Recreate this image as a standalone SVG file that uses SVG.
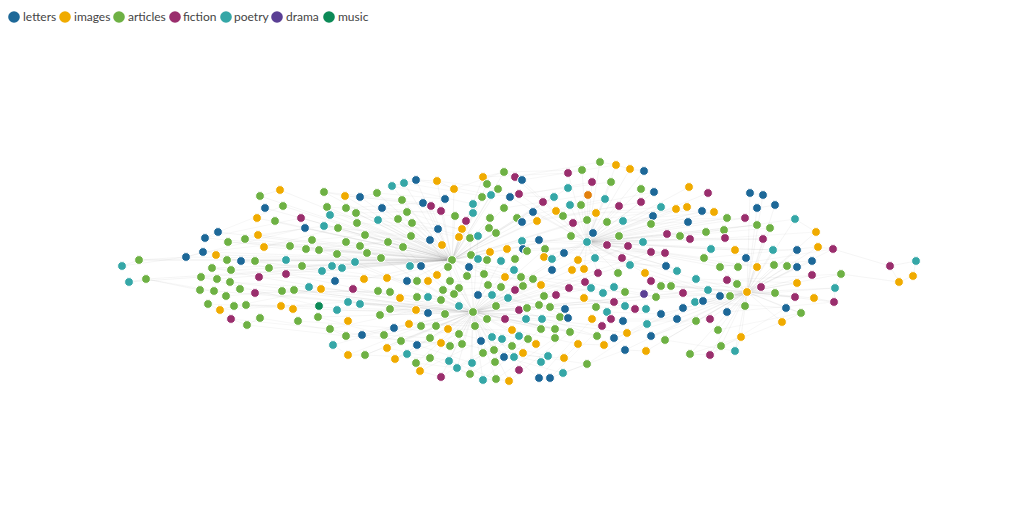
<svg xmlns="http://www.w3.org/2000/svg" width="1024" height="519" viewBox="0 0 1024 519">
<style>
.l{fill:#1d6898}.i{fill:#f0ab00}.a{fill:#6eb144}.f{fill:#9a2e6d}.p{fill:#35a7a7}.d{fill:#5a3f94}.m{fill:#0c8a57}.o{fill:#e2800c}
#nodes circle{stroke:#fff;stroke-width:1}
#edges path{fill:none;stroke:#8a8a8a;stroke-opacity:0.15;stroke-width:0.6}
#edges path.w{stroke-opacity:0.12}
.lg{font-family:Lato,"Open Sans",sans-serif;font-size:12px;fill:#444}
</style>
<g id="legend">
<circle class="l" cx="14" cy="17" r="5.8"/><text class="lg" x="23" y="21">letters</text>
<circle class="i" cx="65" cy="17" r="5.8"/><text class="lg" x="74" y="21">images</text>
<circle class="a" cx="119" cy="17" r="5.8"/><text class="lg" x="128" y="21">articles</text>
<circle class="f" cx="175" cy="17" r="5.8"/><text class="lg" x="183" y="21">fiction</text>
<circle class="p" cx="226" cy="17" r="5.8"/><text class="lg" x="234" y="21">poetry</text>
<circle class="d" cx="277" cy="17" r="5.8"/><text class="lg" x="286" y="21">drama</text>
<circle class="m" cx="329" cy="17" r="5.8"/><text class="lg" x="338" y="21">music</text>
</g>
<g id="edges">
<path d="M473 312L417 281M473 312L428 297M473 312L441 300M473 312L459 288M473 312L488 285M473 312L501 287M473 312L508 298M473 312L515 290M473 312L496 306M473 312L519 310M473 312L487 319M473 312L505 319M473 312L512 330M473 312L475 326M473 312L459 334M473 312L448 329M473 312L436 326M473 312L421 326M473 312L430 338M473 312L450 346M473 312L462 344M473 312L481 341M473 312L492 337M473 312L502 339M473 312L519 336M473 312L494 350M473 312L483 353M473 312L504 357M473 312L514 357M473 312L472 363M473 312L449 361M473 312L457 368M473 312L470 374M473 312L483 380M473 312L496 379M473 312L509 381M473 312L441 377M473 312L420 371M473 312L416 363M473 312L395 359M473 312L390 309M473 312L380 315M473 312L348 302M473 312L360 304M473 312L337 310M473 312L319 317M473 312L319 250M473 312L337 254M473 312L360 246M473 312L388 242M473 312L403 247M473 312L430 240M473 312L442 245M473 312L452 260M473 312L470 238M473 312L478 236M473 312L490 252M473 312L507 249M473 312L523 249M473 312L527 251M473 312L545 249M473 312L564 253M473 312L587 242M473 312L607 245M473 312L628 246M473 312L541 285M473 312L569 288M473 312L585 282M473 312L591 288M473 312L596 307M473 312L614 302M473 312L560 317M473 312L568 318M473 312L541 329M473 312L555 329M473 312L570 332M473 312L597 336M473 312L627 333M473 312L602 326M473 312L651 252M473 312L665 253M473 312L683 293M473 312L708 290M473 312L747 292M473 312L255 293M473 312L259 277M473 312L286 274M473 312L294 290M473 312L282 291M473 312L230 282M473 312L246 305M473 312L214 291M473 312L362 335M473 312L346 336M473 312L384 335M473 312L401 341M473 312L365 355M473 312L387 348"/>
<path d="M452 260L402 200M452 260L407 212M452 260L412 223M452 260L423 203M452 260L431 206M452 260L441 211M452 260L438 229M452 260L455 216M452 260L466 221M452 260L462 229M452 260L459 237M452 260L489 228M452 260L496 233M452 260L473 213M452 260L473 204M452 260L411 236M452 260L346 242M452 260L324 226M452 260L338 228M452 260L357 223M452 260L365 235M452 260L312 240M452 260L306 249M452 260L290 246M452 260L264 247M452 260L258 235M452 260L245 239M452 260L228 242M452 260L218 232M452 260L205 238M452 260L186 257M452 260L203 252M452 260L216 255M452 260L227 260M452 260L241 261M452 260L255 261M452 260L269 268M452 260L286 260M452 260L302 266M452 260L231 270M452 260L212 268M452 260L201 277M452 260L217 279M452 260L322 271M452 260L332 266M452 260L342 268M452 260L355 262M452 260L364 279M452 260L387 278M452 260L407 281M452 260L428 281M452 260L437 275M452 260L450 281M452 260L467 276M452 260L484 274M452 260L505 277M452 260L514 270M452 260L520 277M452 260L522 241M452 260L522 222M452 260L537 221M452 260L556 211M452 260L573 223M452 260L587 220M452 260L593 233M452 260L571 236M452 260L543 202M452 260L554 197M452 260L568 188M452 260L504 208M452 260L517 218M452 260L490 218M452 260L483 196M452 260L491 195M452 260L498 189M452 260L487 184M452 260L504 172M452 260L483 177M452 260L454 189M452 260L437 181M452 260L416 180M452 260L404 183M452 260L392 186M452 260L378 220M452 260L398 219M452 260L382 208M452 260L356 213M452 260L346 208M452 260L327 207M452 260L330 215M452 260L345 196M452 260L360 197M452 260L377 193M452 260L324 192M452 260L305 228M452 260L301 218M452 260L283 206M452 260L275 221M452 260L265 208M452 260L257 218M452 260L260 196M452 260L280 190M452 260L139 260M452 260L146 279"/>
<path d="M587 242L600 162M587 242L616 165M587 242L630 169M587 242L644 171M587 242L582 170M587 242L568 173M587 242L592 182M587 242L611 182M587 242L605 199M587 242L588 195M587 242L619 206M587 242L641 202M587 242L641 189M587 242L654 192M587 242L661 207M587 242L653 216M587 242L651 224M587 242L623 221M587 242L607 222M587 242L619 236M587 242L643 242M587 242L667 234M587 242L680 236M587 242L690 239M587 242L706 232M587 242L711 249M587 242L725 238M587 242L724 230M587 242L727 218M587 242L688 222M587 242L702 211M587 242L714 212M587 242L676 209M587 242L687 207M587 242L689 187M587 242L708 193M587 242L745 218M587 242L757 225M587 242L763 239M587 242L773 250M587 242L735 250M587 242L757 267M587 242L720 267M587 242L738 267M587 242L704 258M587 242L677 269M587 242L666 266M587 242L645 273M587 242L630 264M587 242L622 258M587 242L595 258M587 242L578 260M587 242L572 269M587 242L584 269M587 242L598 273M587 242L618 273M587 242L544 257M587 242L552 259M587 242L539 240M587 242L533 212M587 242L563 216M587 242L570 205M587 242L581 205M587 242L596 213M587 242L515 177M587 242L522 180M587 242L510 197M587 242L519 194"/>
<path d="M747 292L737 284M747 292L731 296M747 292L745 306M747 292L727 312M747 292L761 287M747 292L775 293M747 292L795 297M747 292L797 283M747 292L812 275M747 292L786 308M747 292L801 313M747 292L782 322M747 292L814 298M747 292L727 280M747 292L719 266M747 292L696 279M747 292L708 290M747 292L720 296M747 292L703 301M747 292L695 302M747 292L683 308M747 292L677 319M747 292L696 321M747 292L710 319M747 292L718 330M747 292L661 314M747 292L647 324M747 292L656 297M747 292L671 286M747 292L661 286M747 292L741 337M747 292L735 351M747 292L721 346M747 292L710 355M747 292L690 354M747 292L774 265M747 292L787 266M747 292L797 267M747 292L757 267M747 292L773 250M747 292L797 250M747 292L818 247M747 292L812 261M747 292L763 239M747 292L770 228M747 292L795 219M747 292L775 205M747 292L757 208M747 292L750 193M747 292L763 195M747 292L841 274M747 292L835 288M747 292L834 302M747 292L816 232M747 292L833 249M747 292L651 336M747 292L665 340M747 292L625 350M747 292L646 351"/>
<path class="w" d="M186 257L305 228M203 252L312 240M218 232L283 206M205 238L301 218M139 260L227 260M146 279L214 291M201 277L319 306M208 304L337 310M220 310L348 302M231 319L330 329M247 325L346 336M260 318L362 335M298 321L394 328M318 317L384 335M255 293L378 291M282 291L390 292M294 290L400 298M309 287L417 297M321 289L428 297M259 277L364 279M286 274L387 278M269 268L407 281M302 266L417 281M324 192L402 200M345 196L423 203M360 197L431 206M377 193L445 199M392 186L473 204M404 183L483 196M416 180L491 195M437 181L498 189M454 189L504 172M483 177L568 173M504 172L582 170M515 177L600 162M522 180L616 165M510 197L592 182M519 194L611 182M491 195L554 197M504 208L588 195M517 218L605 199M522 222L619 206M537 221L641 202M556 211L654 192M563 216L661 207M573 223L676 209M596 213L702 211M607 222L714 212M623 221L727 218M651 224L745 218M667 234L757 225M680 236L770 228M690 239L763 239M706 232L795 219M711 249L797 250M725 238L816 232M704 258L818 247M719 266L812 261M720 267L833 249M727 280L841 274M730 296L835 288M727 312L834 302M718 330L801 313M721 346L782 322M710 355L786 308M690 354L741 337M665 340L735 351M651 336L696 321M627 333L683 308M614 338L677 319M604 345L661 314M587 364L647 324M563 373L625 350M550 378L602 326M539 378L592 319M509 381L570 332M496 379L555 338M483 380L541 329M470 374L528 339M457 368L519 336M441 377L502 339M420 371L481 341M407 354L459 334M395 359L448 329M365 355L436 326M348 355L421 326M333 345L409 324M330 329L416 310M337 310L428 313M348 302L445 314M360 304L459 306M380 315L441 300M390 309L454 294M522 241L607 245M523 249L628 246M527 251L643 242M545 249L651 252M564 253L665 253M578 260L666 266M595 258L677 269M622 258L696 279M630 264L708 290M645 273L720 296M651 281L737 284M661 286L761 287M671 286L775 293M683 293L795 297M696 279L797 283M703 301L786 308M695 302L745 306M541 285L603 293M569 288L625 292M585 282L644 294M591 288L656 297M614 287L683 293M544 296L614 302M556 295L625 306M584 298L635 309M596 307L646 309M607 312L661 314M611 319L677 319M623 321L696 321M533 279L591 288M522 276L585 282M505 277L569 288M484 274L541 285M467 276L533 279M450 281L523 286M443 290L501 287M454 294L508 298M478 295L539 305M492 295L550 307M496 306L565 309M508 298L560 317M515 290L568 318M519 310L597 336M487 319L555 329M505 319L570 332M512 330L578 344M475 326L536 344M459 334L548 356M462 344L541 362M483 353L564 358M494 350L587 364M504 357L563 373M514 357L539 378M401 341L462 344M417 345L472 363M430 358L483 380M449 361L496 379M416 363L457 368M387 348L449 361M365 355L430 358M362 335L450 346M346 336L441 343M384 335L430 338M394 328L459 334M409 324L475 326M421 326L487 319M436 326L505 319M448 329L512 330M324 226L411 236M338 228L430 240M357 223L438 229M365 235L442 245M378 220L459 237M398 219L462 229M412 223L470 238M407 212L478 236M382 208L455 216M356 213L441 211M346 208L423 203M327 207L407 212M330 215L398 219M346 242L403 247M360 246L411 236M337 254L381 258M319 250L367 253M312 240L365 235M306 249L388 242M290 246L346 242M264 247L338 228M258 235L324 226M245 239L305 228M228 242L290 246M241 261L302 266M255 261L322 271M227 260L286 260M216 255L269 268M212 268L259 277M231 270L286 274M230 282L309 287M226 296L294 290M234 306L321 289M246 305L319 306M240 289L282 291"/>
<path d="M890 266L916 261M890 266L899 282M899 282L913 276M833 249L818 247M816 232L795 219M122 266L139 260M129 282L146 279M750 193L763 195M757 208L775 205M600 162L616 165M616 165L630 169M630 169L644 171M483 177L504 172M504 172L515 177M260 196L280 190M735 351L741 337M539 378L550 378M441 377L420 371M483 380L496 379M496 379L509 381M329 329L346 336M333 345L348 355M186 257L203 252M205 238L218 232M392 186L404 183M404 183L416 180M416 180L437 181M437 181L454 189M324 192L345 196M345 196L360 197M360 197L377 193M841 274L835 288M835 288L834 302M834 302L814 298M801 313L786 308M782 322L801 313M587 364L563 373M563 373L550 378M541 362L548 356M710 355L721 346M690 354L710 355M646 351L625 350M604 345L578 344M564 358L578 344M395 359L387 348M365 355L348 355M416 363L420 371M457 368L470 374M449 361L457 368M472 363L483 353M514 357L523 353M504 357L494 350M231 319L247 325M247 325L260 318M208 304L220 310M220 310L234 306M200 290L214 291M201 277L217 279M212 268L231 270M139 260L186 257M146 279L200 290M916 261L913 276M833 249L890 266M841 274L899 282M122 266L186 257M129 282L201 277"/>
</g>
<g id="nodes">
<g id="n1"><circle class="a" cx="260" cy="196" r="4.4"/></g>
<g id="n2"><circle class="i" cx="280" cy="190" r="4.4"/></g>
<g id="n3"><circle class="l" cx="265" cy="208" r="4.4"/></g>
<g id="n4"><circle class="a" cx="283" cy="206" r="4.4"/></g>
<g id="n5"><circle class="i" cx="257" cy="218" r="4.4"/></g>
<g id="n6"><circle class="a" cx="275" cy="221" r="4.4"/></g>
<g id="n7"><circle class="f" cx="301" cy="218" r="4.4"/></g>
<g id="n8"><circle class="l" cx="305" cy="228" r="4.4"/></g>
<g id="n9"><circle class="l" cx="218" cy="232" r="4.4"/></g>
<g id="n10"><circle class="l" cx="205" cy="238" r="4.4"/></g>
<g id="n11"><circle class="a" cx="228" cy="242" r="4.4"/></g>
<g id="n12"><circle class="a" cx="245" cy="239" r="4.4"/></g>
<g id="n13"><circle class="i" cx="258" cy="235" r="4.4"/></g>
<g id="n14"><circle class="i" cx="264" cy="247" r="4.4"/></g>
<g id="n15"><circle class="a" cx="290" cy="246" r="4.4"/></g>
<g id="n16"><circle class="a" cx="312" cy="240" r="4.4"/></g>
<g id="n17"><circle class="a" cx="306" cy="249" r="4.4"/></g>
<g id="n18"><circle class="a" cx="319" cy="250" r="4.4"/></g>
<g id="n19"><circle class="l" cx="186" cy="257" r="4.4"/></g>
<g id="n20"><circle class="l" cx="203" cy="252" r="4.4"/></g>
<g id="n21"><circle class="i" cx="216" cy="255" r="4.4"/></g>
<g id="n22"><circle class="a" cx="227" cy="260" r="4.4"/></g>
<g id="n23"><circle class="l" cx="241" cy="261" r="4.4"/></g>
<g id="n24"><circle class="a" cx="255" cy="261" r="4.4"/></g>
<g id="n25"><circle class="p" cx="286" cy="260" r="4.4"/></g>
<g id="n26"><circle class="a" cx="302" cy="266" r="4.4"/></g>
<g id="n27"><circle class="a" cx="139" cy="260" r="4.4"/></g>
<g id="n28"><circle class="p" cx="122" cy="266" r="4.4"/></g>
<g id="n29"><circle class="a" cx="212" cy="268" r="4.4"/></g>
<g id="n30"><circle class="a" cx="231" cy="270" r="4.4"/></g>
<g id="n31"><circle class="a" cx="269" cy="268" r="4.4"/></g>
<g id="n32"><circle class="p" cx="129" cy="282" r="4.4"/></g>
<g id="n33"><circle class="a" cx="146" cy="279" r="4.4"/></g>
<g id="n34"><circle class="a" cx="201" cy="277" r="4.4"/></g>
<g id="n35"><circle class="a" cx="217" cy="279" r="4.4"/></g>
<g id="n36"><circle class="a" cx="230" cy="282" r="4.4"/></g>
<g id="n37"><circle class="f" cx="259" cy="277" r="4.4"/></g>
<g id="n38"><circle class="f" cx="286" cy="274" r="4.4"/></g>
<g id="n39"><circle class="a" cx="200" cy="290" r="4.4"/></g>
<g id="n40"><circle class="a" cx="214" cy="291" r="4.4"/></g>
<g id="n41"><circle class="a" cx="240" cy="289" r="4.4"/></g>
<g id="n42"><circle class="a" cx="226" cy="296" r="4.4"/></g>
<g id="n43"><circle class="f" cx="255" cy="293" r="4.4"/></g>
<g id="n44"><circle class="a" cx="282" cy="291" r="4.4"/></g>
<g id="n45"><circle class="a" cx="294" cy="290" r="4.4"/></g>
<g id="n46"><circle class="p" cx="309" cy="287" r="4.4"/></g>
<g id="n47"><circle class="i" cx="321" cy="289" r="4.4"/></g>
<g id="n48"><circle class="a" cx="208" cy="304" r="4.4"/></g>
<g id="n49"><circle class="i" cx="220" cy="310" r="4.4"/></g>
<g id="n50"><circle class="a" cx="234" cy="306" r="4.4"/></g>
<g id="n51"><circle class="a" cx="246" cy="305" r="4.4"/></g>
<g id="n52"><circle class="i" cx="281" cy="306" r="4.4"/></g>
<g id="n53"><circle class="i" cx="293" cy="309" r="4.4"/></g>
<g id="n54"><circle class="m" cx="319" cy="306" r="4.4"/></g>
<g id="n55"><circle class="f" cx="231" cy="319" r="4.4"/></g>
<g id="n56"><circle class="a" cx="260" cy="318" r="4.4"/></g>
<g id="n57"><circle class="a" cx="247" cy="325" r="4.4"/></g>
<g id="n58"><circle class="a" cx="298" cy="321" r="4.4"/></g>
<g id="n59"><circle class="a" cx="318" cy="317" r="4.4"/></g>
<g id="n60"><circle class="a" cx="504" cy="172" r="4.4"/></g>
<g id="n61"><circle class="i" cx="483" cy="177" r="4.4"/></g>
<g id="n62"><circle class="f" cx="515" cy="177" r="4.4"/></g>
<g id="n63"><circle class="l" cx="522" cy="180" r="4.4"/></g>
<g id="n64"><circle class="a" cx="487" cy="184" r="4.4"/></g>
<g id="n65"><circle class="a" cx="498" cy="189" r="4.4"/></g>
<g id="n66"><circle class="p" cx="392" cy="186" r="4.4"/></g>
<g id="n67"><circle class="p" cx="404" cy="183" r="4.4"/></g>
<g id="n68"><circle class="l" cx="416" cy="180" r="4.4"/></g>
<g id="n69"><circle class="i" cx="437" cy="181" r="4.4"/></g>
<g id="n70"><circle class="i" cx="454" cy="189" r="4.4"/></g>
<g id="n71"><circle class="a" cx="324" cy="192" r="4.4"/></g>
<g id="n72"><circle class="i" cx="345" cy="196" r="4.4"/></g>
<g id="n73"><circle class="l" cx="360" cy="197" r="4.4"/></g>
<g id="n74"><circle class="a" cx="377" cy="193" r="4.4"/></g>
<g id="n75"><circle class="p" cx="491" cy="195" r="4.4"/></g>
<g id="n76"><circle class="a" cx="482" cy="197" r="4.4"/></g>
<g id="n77"><circle class="l" cx="510" cy="197" r="4.4"/></g>
<g id="n78"><circle class="f" cx="519" cy="194" r="4.4"/></g>
<g id="n79"><circle class="a" cx="402" cy="200" r="4.4"/></g>
<g id="n80"><circle class="l" cx="423" cy="203" r="4.4"/></g>
<g id="n81"><circle class="f" cx="431" cy="206" r="4.4"/></g>
<g id="n82"><circle class="l" cx="445" cy="199" r="4.4"/></g>
<g id="n83"><circle class="f" cx="441" cy="211" r="4.4"/></g>
<g id="n84"><circle class="p" cx="473" cy="204" r="4.4"/></g>
<g id="n85"><circle class="p" cx="473" cy="213" r="4.4"/></g>
<g id="n86"><circle class="a" cx="504" cy="208" r="4.4"/></g>
<g id="n87"><circle class="a" cx="327" cy="207" r="4.4"/></g>
<g id="n88"><circle class="a" cx="346" cy="208" r="4.4"/></g>
<g id="n89"><circle class="a" cx="356" cy="213" r="4.4"/></g>
<g id="n90"><circle class="l" cx="382" cy="208" r="4.4"/></g>
<g id="n91"><circle class="a" cx="407" cy="212" r="4.4"/></g>
<g id="n92"><circle class="p" cx="330" cy="215" r="4.4"/></g>
<g id="n93"><circle class="a" cx="398" cy="219" r="4.4"/></g>
<g id="n94"><circle class="p" cx="378" cy="220" r="4.4"/></g>
<g id="n95"><circle class="a" cx="412" cy="223" r="4.4"/></g>
<g id="n96"><circle class="a" cx="455" cy="216" r="4.4"/></g>
<g id="n97"><circle class="f" cx="466" cy="221" r="4.4"/></g>
<g id="n98"><circle class="a" cx="490" cy="218" r="4.4"/></g>
<g id="n99"><circle class="a" cx="517" cy="218" r="4.4"/></g>
<g id="n100"><circle class="a" cx="357" cy="223" r="4.4"/></g>
<g id="n101"><circle class="p" cx="324" cy="226" r="4.4"/></g>
<g id="n102"><circle class="a" cx="338" cy="228" r="4.4"/></g>
<g id="n103"><circle class="i" cx="462" cy="229" r="4.4"/></g>
<g id="n104"><circle class="a" cx="489" cy="228" r="4.4"/></g>
<g id="n105"><circle class="l" cx="522" cy="222" r="4.4"/></g>
<g id="n106"><circle class="l" cx="438" cy="229" r="4.4"/></g>
<g id="n107"><circle class="a" cx="365" cy="235" r="4.4"/></g>
<g id="n108"><circle class="a" cx="496" cy="233" r="4.4"/></g>
<g id="n109"><circle class="a" cx="411" cy="236" r="4.4"/></g>
<g id="n110"><circle class="i" cx="459" cy="237" r="4.4"/></g>
<g id="n111"><circle class="a" cx="470" cy="238" r="4.4"/></g>
<g id="n112"><circle class="p" cx="478" cy="236" r="4.4"/></g>
<g id="n113"><circle class="l" cx="430" cy="240" r="4.4"/></g>
<g id="n114"><circle class="p" cx="522" cy="241" r="4.4"/></g>
<g id="n115"><circle class="a" cx="346" cy="242" r="4.4"/></g>
<g id="n116"><circle class="a" cx="388" cy="242" r="4.4"/></g>
<g id="n117"><circle class="a" cx="360" cy="246" r="4.4"/></g>
<g id="n118"><circle class="a" cx="403" cy="247" r="4.4"/></g>
<g id="n119"><circle class="i" cx="442" cy="245" r="4.4"/></g>
<g id="n120"><circle class="a" cx="337" cy="254" r="4.4"/></g>
<g id="n121"><circle class="a" cx="367" cy="253" r="4.4"/></g>
<g id="n122"><circle class="i" cx="490" cy="252" r="4.4"/></g>
<g id="n123"><circle class="i" cx="507" cy="249" r="4.4"/></g>
<g id="n124"><circle class="l" cx="523" cy="249" r="4.4"/></g>
<g id="n125"><circle class="p" cx="355" cy="262" r="4.4"/></g>
<g id="n126"><circle class="a" cx="381" cy="258" r="4.4"/></g>
<g id="n127"><circle class="a" cx="452" cy="260" r="4.4"/></g>
<g id="n128"><circle class="a" cx="471" cy="255" r="4.4"/></g>
<g id="n129"><circle class="p" cx="478" cy="259" r="4.4"/></g>
<g id="n130"><circle class="a" cx="487" cy="260" r="4.4"/></g>
<g id="n131"><circle class="p" cx="501" cy="261" r="4.4"/></g>
<g id="n132"><circle class="a" cx="515" cy="259" r="4.4"/></g>
<g id="n133"><circle class="p" cx="332" cy="266" r="4.4"/></g>
<g id="n134"><circle class="p" cx="410" cy="266" r="4.4"/></g>
<g id="n135"><circle class="l" cx="421" cy="266" r="4.4"/></g>
<g id="n136"><circle class="a" cx="448" cy="267" r="4.4"/></g>
<g id="n137"><circle class="l" cx="469" cy="267" r="4.4"/></g>
<g id="n138"><circle class="p" cx="342" cy="268" r="4.4"/></g>
<g id="n139"><circle class="p" cx="322" cy="271" r="4.4"/></g>
<g id="n140"><circle class="l" cx="335" cy="281" r="4.4"/></g>
<g id="n141"><circle class="i" cx="364" cy="279" r="4.4"/></g>
<g id="n142"><circle class="i" cx="387" cy="278" r="4.4"/></g>
<g id="n143"><circle class="l" cx="407" cy="281" r="4.4"/></g>
<g id="n144"><circle class="a" cx="417" cy="281" r="4.4"/></g>
<g id="n145"><circle class="i" cx="428" cy="281" r="4.4"/></g>
<g id="n146"><circle class="i" cx="437" cy="275" r="4.4"/></g>
<g id="n147"><circle class="a" cx="450" cy="281" r="4.4"/></g>
<g id="n148"><circle class="a" cx="467" cy="276" r="4.4"/></g>
<g id="n149"><circle class="a" cx="484" cy="274" r="4.4"/></g>
<g id="n150"><circle class="p" cx="514" cy="270" r="4.4"/></g>
<g id="n151"><circle class="i" cx="505" cy="277" r="4.4"/></g>
<g id="n152"><circle class="a" cx="521" cy="277" r="4.4"/></g>
<g id="n153"><circle class="f" cx="353" cy="289" r="4.4"/></g>
<g id="n154"><circle class="a" cx="378" cy="291" r="4.4"/></g>
<g id="n155"><circle class="a" cx="390" cy="292" r="4.4"/></g>
<g id="n156"><circle class="i" cx="400" cy="298" r="4.4"/></g>
<g id="n157"><circle class="a" cx="417" cy="297" r="4.4"/></g>
<g id="n158"><circle class="p" cx="428" cy="297" r="4.4"/></g>
<g id="n159"><circle class="a" cx="441" cy="300" r="4.4"/></g>
<g id="n160"><circle class="a" cx="443" cy="290" r="4.4"/></g>
<g id="n161"><circle class="a" cx="459" cy="288" r="4.4"/></g>
<g id="n162"><circle class="a" cx="454" cy="294" r="4.4"/></g>
<g id="n163"><circle class="l" cx="478" cy="295" r="4.4"/></g>
<g id="n164"><circle class="a" cx="488" cy="285" r="4.4"/></g>
<g id="n165"><circle class="p" cx="492" cy="295" r="4.4"/></g>
<g id="n166"><circle class="a" cx="501" cy="287" r="4.4"/></g>
<g id="n167"><circle class="p" cx="508" cy="298" r="4.4"/></g>
<g id="n168"><circle class="f" cx="515" cy="290" r="4.4"/></g>
<g id="n169"><circle class="a" cx="523" cy="286" r="4.4"/></g>
<g id="n170"><circle class="p" cx="348" cy="302" r="4.4"/></g>
<g id="n171"><circle class="p" cx="360" cy="304" r="4.4"/></g>
<g id="n172"><circle class="a" cx="390" cy="309" r="4.4"/></g>
<g id="n173"><circle class="a" cx="380" cy="315" r="4.4"/></g>
<g id="n174"><circle class="i" cx="416" cy="310" r="4.4"/></g>
<g id="n175"><circle class="l" cx="428" cy="313" r="4.4"/></g>
<g id="n176"><circle class="a" cx="445" cy="314" r="4.4"/></g>
<g id="n177"><circle class="p" cx="459" cy="306" r="4.4"/></g>
<g id="n178"><circle class="a" cx="473" cy="312" r="4.4"/></g>
<g id="n179"><circle class="a" cx="496" cy="306" r="4.4"/></g>
<g id="n180"><circle class="f" cx="519" cy="310" r="4.4"/></g>
<g id="n181"><circle class="p" cx="337" cy="310" r="4.4"/></g>
<g id="n182"><circle class="i" cx="348" cy="321" r="4.4"/></g>
<g id="n183"><circle class="a" cx="487" cy="319" r="4.4"/></g>
<g id="n184"><circle class="f" cx="505" cy="319" r="4.4"/></g>
<g id="n185"><circle class="i" cx="409" cy="324" r="4.4"/></g>
<g id="n186"><circle class="a" cx="421" cy="326" r="4.4"/></g>
<g id="n187"><circle class="a" cx="436" cy="326" r="4.4"/></g>
<g id="n188"><circle class="i" cx="448" cy="329" r="4.4"/></g>
<g id="n189"><circle class="a" cx="475" cy="326" r="4.4"/></g>
<g id="n190"><circle class="i" cx="512" cy="330" r="4.4"/></g>
<g id="n191"><circle class="a" cx="330" cy="329" r="4.4"/></g>
<g id="n192"><circle class="a" cx="346" cy="336" r="4.4"/></g>
<g id="n193"><circle class="l" cx="362" cy="335" r="4.4"/></g>
<g id="n194"><circle class="l" cx="394" cy="328" r="4.4"/></g>
<g id="n195"><circle class="a" cx="384" cy="335" r="4.4"/></g>
<g id="n196"><circle class="a" cx="401" cy="341" r="4.4"/></g>
<g id="n197"><circle class="a" cx="430" cy="338" r="4.4"/></g>
<g id="n198"><circle class="a" cx="459" cy="334" r="4.4"/></g>
<g id="n199"><circle class="p" cx="492" cy="337" r="4.4"/></g>
<g id="n200"><circle class="p" cx="502" cy="339" r="4.4"/></g>
<g id="n201"><circle class="p" cx="519" cy="336" r="4.4"/></g>
<g id="n202"><circle class="l" cx="481" cy="341" r="4.4"/></g>
<g id="n203"><circle class="i" cx="441" cy="343" r="4.4"/></g>
<g id="n204"><circle class="l" cx="417" cy="345" r="4.4"/></g>
<g id="n205"><circle class="a" cx="450" cy="346" r="4.4"/></g>
<g id="n206"><circle class="a" cx="462" cy="344" r="4.4"/></g>
<g id="n207"><circle class="a" cx="512" cy="346" r="4.4"/></g>
<g id="n208"><circle class="p" cx="333" cy="345" r="4.4"/></g>
<g id="n209"><circle class="i" cx="387" cy="348" r="4.4"/></g>
<g id="n210"><circle class="p" cx="407" cy="354" r="4.4"/></g>
<g id="n211"><circle class="a" cx="365" cy="355" r="4.4"/></g>
<g id="n212"><circle class="i" cx="348" cy="355" r="4.4"/></g>
<g id="n213"><circle class="a" cx="430" cy="358" r="4.4"/></g>
<g id="n214"><circle class="a" cx="483" cy="353" r="4.4"/></g>
<g id="n215"><circle class="a" cx="494" cy="350" r="4.4"/></g>
<g id="n216"><circle class="l" cx="504" cy="357" r="4.4"/></g>
<g id="n217"><circle class="p" cx="514" cy="357" r="4.4"/></g>
<g id="n218"><circle class="i" cx="523" cy="353" r="4.4"/></g>
<g id="n219"><circle class="i" cx="395" cy="359" r="4.4"/></g>
<g id="n220"><circle class="p" cx="449" cy="361" r="4.4"/></g>
<g id="n221"><circle class="a" cx="416" cy="363" r="4.4"/></g>
<g id="n222"><circle class="a" cx="495" cy="362" r="4.4"/></g>
<g id="n223"><circle class="p" cx="472" cy="363" r="4.4"/></g>
<g id="n224"><circle class="f" cx="519" cy="370" r="4.4"/></g>
<g id="n225"><circle class="i" cx="420" cy="371" r="4.4"/></g>
<g id="n226"><circle class="p" cx="457" cy="368" r="4.4"/></g>
<g id="n227"><circle class="a" cx="470" cy="374" r="4.4"/></g>
<g id="n228"><circle class="f" cx="441" cy="377" r="4.4"/></g>
<g id="n229"><circle class="p" cx="483" cy="380" r="4.4"/></g>
<g id="n230"><circle class="a" cx="496" cy="379" r="4.4"/></g>
<g id="n231"><circle class="i" cx="509" cy="381" r="4.4"/></g>
<g id="n232"><circle class="a" cx="600" cy="162" r="4.4"/></g>
<g id="n233"><circle class="i" cx="616" cy="165" r="4.4"/></g>
<g id="n234"><circle class="i" cx="630" cy="169" r="4.4"/></g>
<g id="n235"><circle class="l" cx="644" cy="171" r="4.4"/></g>
<g id="n236"><circle class="f" cx="568" cy="173" r="4.4"/></g>
<g id="n237"><circle class="a" cx="582" cy="170" r="4.4"/></g>
<g id="n238"><circle class="f" cx="592" cy="182" r="4.4"/></g>
<g id="n239"><circle class="a" cx="611" cy="182" r="4.4"/></g>
<g id="n240"><circle class="a" cx="641" cy="189" r="4.4"/></g>
<g id="n241"><circle class="l" cx="654" cy="192" r="4.4"/></g>
<g id="n242"><circle class="i" cx="689" cy="187" r="4.4"/></g>
<g id="n243"><circle class="f" cx="708" cy="193" r="4.4"/></g>
<g id="n244"><circle class="p" cx="568" cy="188" r="4.4"/></g>
<g id="n245"><circle class="p" cx="554" cy="197" r="4.4"/></g>
<g id="n246"><circle class="o" cx="588" cy="195" r="4.4"/></g>
<g id="n247"><circle class="p" cx="605" cy="199" r="4.4"/></g>
<g id="n248"><circle class="f" cx="543" cy="202" r="4.4"/></g>
<g id="n249"><circle class="p" cx="570" cy="205" r="4.4"/></g>
<g id="n250"><circle class="a" cx="581" cy="205" r="4.4"/></g>
<g id="n251"><circle class="f" cx="619" cy="206" r="4.4"/></g>
<g id="n252"><circle class="f" cx="641" cy="202" r="4.4"/></g>
<g id="n253"><circle class="p" cx="661" cy="207" r="4.4"/></g>
<g id="n254"><circle class="i" cx="676" cy="209" r="4.4"/></g>
<g id="n255"><circle class="i" cx="687" cy="207" r="4.4"/></g>
<g id="n256"><circle class="l" cx="702" cy="211" r="4.4"/></g>
<g id="n257"><circle class="i" cx="714" cy="212" r="4.4"/></g>
<g id="n258"><circle class="a" cx="727" cy="218" r="4.4"/></g>
<g id="n259"><circle class="l" cx="533" cy="212" r="4.4"/></g>
<g id="n260"><circle class="i" cx="556" cy="211" r="4.4"/></g>
<g id="n261"><circle class="a" cx="563" cy="216" r="4.4"/></g>
<g id="n262"><circle class="i" cx="596" cy="213" r="4.4"/></g>
<g id="n263"><circle class="l" cx="653" cy="216" r="4.4"/></g>
<g id="n264"><circle class="i" cx="537" cy="221" r="4.4"/></g>
<g id="n265"><circle class="f" cx="573" cy="223" r="4.4"/></g>
<g id="n266"><circle class="a" cx="587" cy="220" r="4.4"/></g>
<g id="n267"><circle class="a" cx="607" cy="222" r="4.4"/></g>
<g id="n268"><circle class="p" cx="623" cy="221" r="4.4"/></g>
<g id="n269"><circle class="a" cx="651" cy="224" r="4.4"/></g>
<g id="n270"><circle class="l" cx="688" cy="222" r="4.4"/></g>
<g id="n271"><circle class="a" cx="724" cy="230" r="4.4"/></g>
<g id="n272"><circle class="l" cx="593" cy="233" r="4.4"/></g>
<g id="n273"><circle class="a" cx="571" cy="236" r="4.4"/></g>
<g id="n274"><circle class="a" cx="619" cy="236" r="4.4"/></g>
<g id="n275"><circle class="f" cx="667" cy="234" r="4.4"/></g>
<g id="n276"><circle class="a" cx="680" cy="236" r="4.4"/></g>
<g id="n277"><circle class="f" cx="690" cy="239" r="4.4"/></g>
<g id="n278"><circle class="a" cx="706" cy="232" r="4.4"/></g>
<g id="n279"><circle class="f" cx="725" cy="238" r="4.4"/></g>
<g id="n280"><circle class="l" cx="539" cy="240" r="4.4"/></g>
<g id="n281"><circle class="p" cx="587" cy="242" r="4.4"/></g>
<g id="n282"><circle class="f" cx="607" cy="245" r="4.4"/></g>
<g id="n283"><circle class="f" cx="628" cy="246" r="4.4"/></g>
<g id="n284"><circle class="p" cx="643" cy="242" r="4.4"/></g>
<g id="n285"><circle class="p" cx="711" cy="249" r="4.4"/></g>
<g id="n286"><circle class="a" cx="527" cy="251" r="4.4"/></g>
<g id="n287"><circle class="a" cx="545" cy="249" r="4.4"/></g>
<g id="n288"><circle class="l" cx="564" cy="253" r="4.4"/></g>
<g id="n289"><circle class="f" cx="651" cy="252" r="4.4"/></g>
<g id="n290"><circle class="f" cx="665" cy="253" r="4.4"/></g>
<g id="n291"><circle class="i" cx="544" cy="257" r="4.4"/></g>
<g id="n292"><circle class="p" cx="552" cy="259" r="4.4"/></g>
<g id="n293"><circle class="i" cx="578" cy="260" r="4.4"/></g>
<g id="n294"><circle class="p" cx="595" cy="258" r="4.4"/></g>
<g id="n295"><circle class="f" cx="622" cy="258" r="4.4"/></g>
<g id="n296"><circle class="p" cx="630" cy="265" r="4.4"/></g>
<g id="n297"><circle class="a" cx="704" cy="258" r="4.4"/></g>
<g id="n298"><circle class="a" cx="720" cy="267" r="4.4"/></g>
<g id="n299"><circle class="l" cx="666" cy="266" r="4.4"/></g>
<g id="n300"><circle class="p" cx="677" cy="271" r="4.4"/></g>
<g id="n301"><circle class="i" cx="572" cy="270" r="4.4"/></g>
<g id="n302"><circle class="i" cx="584" cy="269" r="4.4"/></g>
<g id="n303"><circle class="l" cx="552" cy="270" r="4.4"/></g>
<g id="n304"><circle class="a" cx="618" cy="273" r="4.4"/></g>
<g id="n305"><circle class="i" cx="645" cy="273" r="4.4"/></g>
<g id="n306"><circle class="f" cx="598" cy="273" r="4.4"/></g>
<g id="n307"><circle class="a" cx="533" cy="279" r="4.4"/></g>
<g id="n308"><circle class="i" cx="541" cy="285" r="4.4"/></g>
<g id="n309"><circle class="f" cx="585" cy="282" r="4.4"/></g>
<g id="n310"><circle class="f" cx="569" cy="288" r="4.4"/></g>
<g id="n311"><circle class="p" cx="591" cy="288" r="4.4"/></g>
<g id="n312"><circle class="p" cx="614" cy="287" r="4.4"/></g>
<g id="n313"><circle class="f" cx="651" cy="281" r="4.4"/></g>
<g id="n314"><circle class="a" cx="661" cy="286" r="4.4"/></g>
<g id="n315"><circle class="a" cx="671" cy="286" r="4.4"/></g>
<g id="n316"><circle class="p" cx="696" cy="279" r="4.4"/></g>
<g id="n317"><circle class="f" cx="727" cy="280" r="4.4"/></g>
<g id="n318"><circle class="a" cx="544" cy="296" r="4.4"/></g>
<g id="n319"><circle class="f" cx="556" cy="295" r="4.4"/></g>
<g id="n320"><circle class="i" cx="584" cy="298" r="4.4"/></g>
<g id="n321"><circle class="p" cx="603" cy="293" r="4.4"/></g>
<g id="n322"><circle class="a" cx="625" cy="292" r="4.4"/></g>
<g id="n323"><circle class="d" cx="644" cy="294" r="4.4"/></g>
<g id="n324"><circle class="a" cx="656" cy="297" r="4.4"/></g>
<g id="n325"><circle class="f" cx="683" cy="293" r="4.4"/></g>
<g id="n326"><circle class="p" cx="708" cy="290" r="4.4"/></g>
<g id="n327"><circle class="p" cx="695" cy="302" r="4.4"/></g>
<g id="n328"><circle class="l" cx="703" cy="301" r="4.4"/></g>
<g id="n329"><circle class="l" cx="720" cy="296" r="4.4"/></g>
<g id="n330"><circle class="a" cx="730" cy="296" r="4.4"/></g>
<g id="n331"><circle class="a" cx="527" cy="308" r="4.4"/></g>
<g id="n332"><circle class="a" cx="539" cy="305" r="4.4"/></g>
<g id="n333"><circle class="a" cx="550" cy="307" r="4.4"/></g>
<g id="n334"><circle class="l" cx="565" cy="309" r="4.4"/></g>
<g id="n335"><circle class="a" cx="596" cy="307" r="4.4"/></g>
<g id="n336"><circle class="f" cx="614" cy="302" r="4.4"/></g>
<g id="n337"><circle class="p" cx="625" cy="306" r="4.4"/></g>
<g id="n338"><circle class="f" cx="635" cy="309" r="4.4"/></g>
<g id="n339"><circle class="p" cx="646" cy="309" r="4.4"/></g>
<g id="n340"><circle class="l" cx="683" cy="308" r="4.4"/></g>
<g id="n341"><circle class="l" cx="727" cy="312" r="4.4"/></g>
<g id="n342"><circle class="p" cx="526" cy="319" r="4.4"/></g>
<g id="n343"><circle class="p" cx="542" cy="319" r="4.4"/></g>
<g id="n344"><circle class="a" cx="560" cy="317" r="4.4"/></g>
<g id="n345"><circle class="l" cx="568" cy="318" r="4.4"/></g>
<g id="n346"><circle class="p" cx="607" cy="312" r="4.4"/></g>
<g id="n347"><circle class="i" cx="592" cy="319" r="4.4"/></g>
<g id="n348"><circle class="f" cx="611" cy="319" r="4.4"/></g>
<g id="n349"><circle class="l" cx="623" cy="321" r="4.4"/></g>
<g id="n350"><circle class="l" cx="661" cy="314" r="4.4"/></g>
<g id="n351"><circle class="p" cx="647" cy="324" r="4.4"/></g>
<g id="n352"><circle class="l" cx="677" cy="319" r="4.4"/></g>
<g id="n353"><circle class="a" cx="696" cy="321" r="4.4"/></g>
<g id="n354"><circle class="f" cx="710" cy="319" r="4.4"/></g>
<g id="n355"><circle class="f" cx="602" cy="326" r="4.4"/></g>
<g id="n356"><circle class="a" cx="541" cy="329" r="4.4"/></g>
<g id="n357"><circle class="a" cx="555" cy="329" r="4.4"/></g>
<g id="n358"><circle class="a" cx="570" cy="332" r="4.4"/></g>
<g id="n359"><circle class="a" cx="597" cy="336" r="4.4"/></g>
<g id="n360"><circle class="i" cx="627" cy="333" r="4.4"/></g>
<g id="n361"><circle class="l" cx="651" cy="336" r="4.4"/></g>
<g id="n362"><circle class="a" cx="665" cy="340" r="4.4"/></g>
<g id="n363"><circle class="l" cx="614" cy="338" r="4.4"/></g>
<g id="n364"><circle class="a" cx="718" cy="330" r="4.4"/></g>
<g id="n365"><circle class="a" cx="528" cy="339" r="4.4"/></g>
<g id="n366"><circle class="a" cx="555" cy="338" r="4.4"/></g>
<g id="n367"><circle class="i" cx="536" cy="344" r="4.4"/></g>
<g id="n368"><circle class="i" cx="578" cy="344" r="4.4"/></g>
<g id="n369"><circle class="i" cx="604" cy="345" r="4.4"/></g>
<g id="n370"><circle class="a" cx="721" cy="346" r="4.4"/></g>
<g id="n371"><circle class="l" cx="625" cy="350" r="4.4"/></g>
<g id="n372"><circle class="i" cx="646" cy="351" r="4.4"/></g>
<g id="n373"><circle class="a" cx="690" cy="354" r="4.4"/></g>
<g id="n374"><circle class="f" cx="710" cy="355" r="4.4"/></g>
<g id="n375"><circle class="i" cx="564" cy="358" r="4.4"/></g>
<g id="n376"><circle class="p" cx="548" cy="356" r="4.4"/></g>
<g id="n377"><circle class="p" cx="541" cy="362" r="4.4"/></g>
<g id="n378"><circle class="a" cx="587" cy="364" r="4.4"/></g>
<g id="n379"><circle class="p" cx="563" cy="373" r="4.4"/></g>
<g id="n380"><circle class="l" cx="539" cy="378" r="4.4"/></g>
<g id="n381"><circle class="l" cx="550" cy="378" r="4.4"/></g>
<g id="n382"><circle class="l" cx="750" cy="193" r="4.4"/></g>
<g id="n383"><circle class="l" cx="763" cy="195" r="4.4"/></g>
<g id="n384"><circle class="l" cx="757" cy="208" r="4.4"/></g>
<g id="n385"><circle class="l" cx="775" cy="205" r="4.4"/></g>
<g id="n386"><circle class="p" cx="795" cy="219" r="4.4"/></g>
<g id="n387"><circle class="f" cx="745" cy="218" r="4.4"/></g>
<g id="n388"><circle class="a" cx="757" cy="225" r="4.4"/></g>
<g id="n389"><circle class="a" cx="770" cy="228" r="4.4"/></g>
<g id="n390"><circle class="f" cx="763" cy="239" r="4.4"/></g>
<g id="n391"><circle class="i" cx="816" cy="232" r="4.4"/></g>
<g id="n392"><circle class="i" cx="735" cy="250" r="4.4"/></g>
<g id="n393"><circle class="p" cx="773" cy="250" r="4.4"/></g>
<g id="n394"><circle class="l" cx="797" cy="250" r="4.4"/></g>
<g id="n395"><circle class="i" cx="818" cy="247" r="4.4"/></g>
<g id="n396"><circle class="f" cx="833" cy="249" r="4.4"/></g>
<g id="n397"><circle class="l" cx="746" cy="258" r="4.4"/></g>
<g id="n398"><circle class="l" cx="812" cy="261" r="4.4"/></g>
<g id="n399"><circle class="a" cx="738" cy="267" r="4.4"/></g>
<g id="n400"><circle class="i" cx="757" cy="267" r="4.4"/></g>
<g id="n401"><circle class="a" cx="774" cy="265" r="4.4"/></g>
<g id="n402"><circle class="a" cx="787" cy="266" r="4.4"/></g>
<g id="n403"><circle class="l" cx="797" cy="267" r="4.4"/></g>
<g id="n404"><circle class="f" cx="890" cy="266" r="4.4"/></g>
<g id="n405"><circle class="p" cx="916" cy="261" r="4.4"/></g>
<g id="n406"><circle class="f" cx="812" cy="275" r="4.4"/></g>
<g id="n407"><circle class="a" cx="841" cy="274" r="4.4"/></g>
<g id="n408"><circle class="a" cx="737" cy="284" r="4.4"/></g>
<g id="n409"><circle class="f" cx="761" cy="287" r="4.4"/></g>
<g id="n410"><circle class="i" cx="797" cy="283" r="4.4"/></g>
<g id="n411"><circle class="p" cx="835" cy="288" r="4.4"/></g>
<g id="n412"><circle class="i" cx="747" cy="292" r="4.4"/></g>
<g id="n413"><circle class="a" cx="775" cy="293" r="4.4"/></g>
<g id="n414"><circle class="f" cx="795" cy="297" r="4.4"/></g>
<g id="n415"><circle class="i" cx="814" cy="298" r="4.4"/></g>
<g id="n416"><circle class="f" cx="834" cy="302" r="4.4"/></g>
<g id="n417"><circle class="a" cx="745" cy="306" r="4.4"/></g>
<g id="n418"><circle class="l" cx="786" cy="308" r="4.4"/></g>
<g id="n419"><circle class="a" cx="801" cy="313" r="4.4"/></g>
<g id="n420"><circle class="i" cx="782" cy="322" r="4.4"/></g>
<g id="n421"><circle class="i" cx="741" cy="337" r="4.4"/></g>
<g id="n422"><circle class="p" cx="735" cy="351" r="4.4"/></g>
<g id="n423"><circle class="i" cx="899" cy="282" r="4.4"/></g>
<g id="n424"><circle class="i" cx="913" cy="276" r="4.4"/></g>
</g>
</svg>
